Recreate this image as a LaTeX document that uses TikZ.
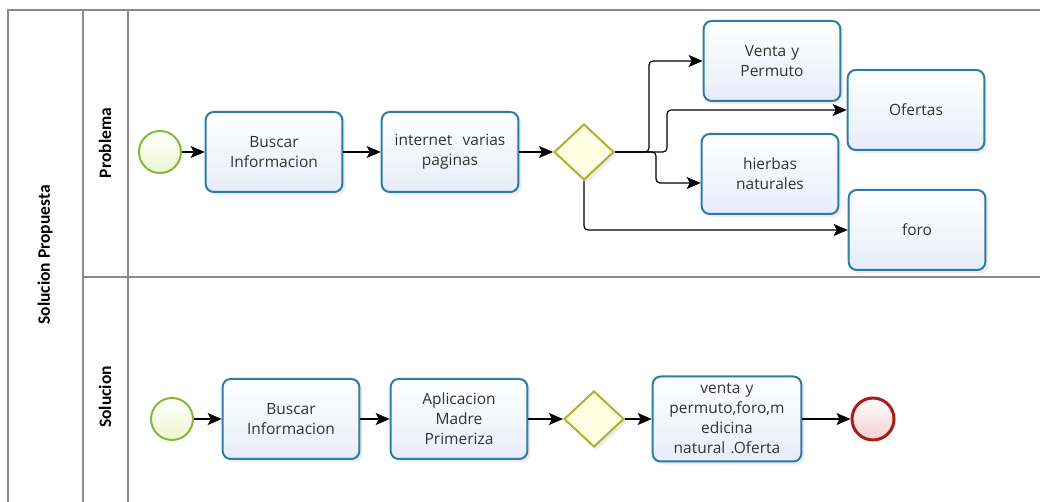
\documentclass[tikz,border=0pt]{standalone}
\usepackage{fontspec}
\setmainfont{Open Sans}
\newfontfamily\lanefont{Carlito}
\usetikzlibrary{arrows.meta,shapes.geometric,shadows}
\definecolor{taskline}{HTML}{2B7CA8}
\definecolor{taskfill}{HTML}{E6EDF9}
\definecolor{gateline}{HTML}{B0B02A}
\definecolor{gatefill}{HTML}{FDFDE2}
\definecolor{startline}{HTML}{7CBB3A}
\definecolor{startfill}{HTML}{EEF6CF}
\definecolor{endline}{HTML}{A81C1C}
\definecolor{endfill}{HTML}{F5CFCF}
\definecolor{poolline}{HTML}{8A8A8A}
\begin{document}
\begin{tikzpicture}[x=1pt,y=-1pt,
    task/.style={draw=taskline, top color=white, bottom color=taskfill, line width=2pt, rounded corners=8pt,
        minimum width=136pt, minimum height=80pt, align=center, text width=130pt,
        font=\fontsize{15.5}{20}\selectfont, text=black!80,
        drop shadow={shadow xshift=3pt, shadow yshift=-3pt, opacity=0.15}},
    gateway/.style={diamond, draw=gateline, fill=gatefill, line width=2pt,
        minimum width=60pt, minimum height=56pt, inner sep=0pt,
        drop shadow={shadow xshift=3pt, shadow yshift=-3pt, opacity=0.15}},
    startev/.style={circle, draw=startline, top color=white, bottom color=startfill, line width=2pt, minimum size=42pt, inner sep=0pt},
    endev/.style={circle, draw=endline, top color=white, bottom color=endfill, line width=3pt, minimum size=42pt, inner sep=0pt},
    flow/.style={-{Stealth[length=14pt,width=12pt,inset=3pt]}, line width=1.2pt},
    elbow/.style={flow, rounded corners=4pt},
    pool/.style={draw=poolline, line width=1.5pt},
    lanelabel/.style={rotate=90, font=\lanefont\bfseries\fontsize{17.5}{20}\selectfont}]
    \useasboundingbox (0,0) rectangle (1045,502);

    \draw[pool] (8,502) -- (8,10) -- (1040,10);
    \draw[pool] (83,10) -- (83,502);
    \draw[pool] (128,10) -- (128,502);
    \draw[pool] (83,277) -- (1040,277);
    \node[lanelabel] (pname) at (45,255) {Solucion Propuesta};
    \node[lanelabel] (lprob) at (105,143) {Problema};
    \node[lanelabel] (lsol) at (105,397) {Solucion};

    \node[startev] (s1) at (160,152) {};
    \node[task] (buscar1) at (274,152) {Buscar\\Informacion};
    \node[task] (internet) at (450,152) {internet~~varias\\paginas};
    \node[gateway] (g1) at (584,152) {};
    \node[task] (venta) at (772,61) {Venta y\\Permuto};
    \node[task] (ofertas) at (916,110) {Ofertas};
    \node[task] (hierbas) at (770,174) {hierbas\\naturales};
    \node[task] (foro) at (917,230) {foro};

    \draw[flow] (s1) -- (buscar1);
    \draw[flow] (buscar1) -- (internet);
    \draw[flow] (internet) -- (g1);
    \draw[elbow] (g1.east) -- ++(34,0) |- (venta.west);
    \draw[elbow] (g1.east) -- ++(52,0) |- (ofertas.west);
    \draw[elbow] (g1.east) -- ++(41,0) |- ([yshift=-9pt]hierbas.west);
    \draw[elbow] (g1.south) |- (foro.west);

    \node[startev] (s2) at (172,419) {};
    \node[task] (buscar2) at (291,419) {Buscar\\Informacion};
    \node[task] (app) at (459,419) {Aplicacion\\Madre\\Primeriza};
    \node[gateway] (g2) at (594,419) {};
    \node[task, minimum width=146pt, text width=142pt, minimum height=85pt] (result) at (727,419) {venta y\\permuto,foro,m\\edicina\\natural .Oferta};
    \node[endev] (e2) at (873,419) {};

    \draw[flow] (s2) -- (buscar2);
    \draw[flow] (buscar2) -- (app);
    \draw[flow] (app.east) -- (g2.west);
    \draw[flow] (g2) -- (result);
    \draw[flow] (result) -- (e2);
\end{tikzpicture}
\end{document}
